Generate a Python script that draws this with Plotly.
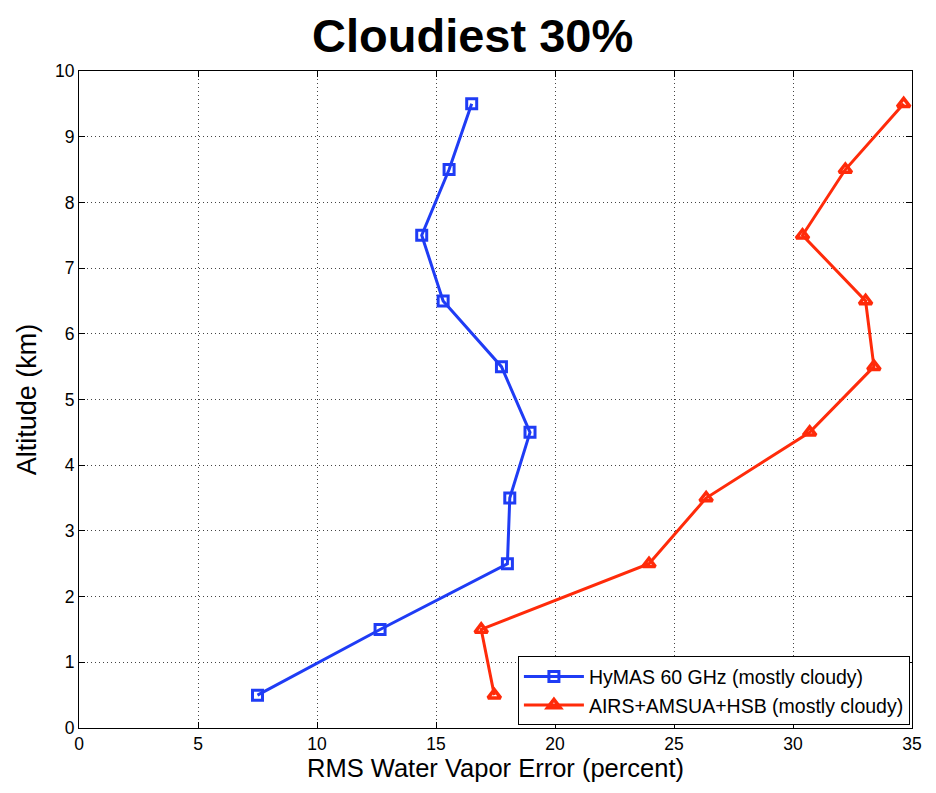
import plotly.graph_objects as go

altitude_km = [0.5, 1.5, 2.5, 3.5, 4.5, 5.5, 6.5, 7.5, 8.5, 9.5]
hymas_err = [7.5, 12.65, 18.0, 18.1, 18.95, 17.75, 15.3, 14.4, 15.55, 16.5]
airs_err = [17.45, 16.9, 23.95, 26.35, 30.7, 33.4, 33.05, 30.4, 32.2, 34.65]

x_ticks = [0, 5, 10, 15, 20, 25, 30, 35]
y_ticks = list(range(0, 11))

blue = "#1f3cf5"
red = "#ff2b0a"
font_family = "Liberation Sans, Arial"

fig = go.Figure()
fig.add_trace(go.Scatter(
    x=hymas_err, y=altitude_km, mode="lines+markers",
    name="HyMAS 60 GHz (mostly cloudy)",
    line=dict(color=blue, width=3),
    marker=dict(symbol="square-open", size=10, color=blue, line=dict(width=3, color=blue)),
))
fig.add_trace(go.Scatter(
    x=airs_err, y=altitude_km, mode="lines+markers",
    name="AIRS+AMSUA+HSB (mostly cloudy)",
    line=dict(color=red, width=3),
    marker=dict(symbol="triangle-up-open", size=11, color=red, line=dict(width=3.5, color=red)),
))

axis_common = dict(
    showline=True, linecolor="black", linewidth=1, mirror="ticks",
    ticks="inside", ticklen=6, tickcolor="black",
    showgrid=True, gridcolor="#444444", griddash="1px,3px", gridwidth=1,
    zeroline=False, tickfont=dict(family=font_family, size=17.5, color="black"),
)

fig.update_layout(
    width=936, height=793,
    paper_bgcolor="white", plot_bgcolor="white",
    margin=dict(l=79, r=24, t=71, b=65),
    title=dict(text="<b>Cloudiest 30%</b>", x=0.505, xanchor="center",
               y=0.955, yanchor="middle",
               font=dict(family=font_family, size=47, color="black")),
    xaxis=dict(range=[0, 35], tickvals=x_ticks,
               title=dict(text="RMS Water Vapor Error (percent)", standoff=6,
                          font=dict(family=font_family, size=25.5, color="black")),
               **axis_common),
    yaxis=dict(range=[0, 10], tickvals=y_ticks,
               title=dict(text="Altitude (km)", standoff=10,
                          font=dict(family=font_family, size=27, color="black")),
               **axis_common),
    legend=dict(x=0.9975, y=0.004, xanchor="right", yanchor="bottom",
                bgcolor="white", bordercolor="black", borderwidth=1,
                font=dict(family=font_family, size=19.5, color="black"),
                itemwidth=60, tracegroupgap=0),
    showlegend=True,
)

fig.write_html("out.html")
